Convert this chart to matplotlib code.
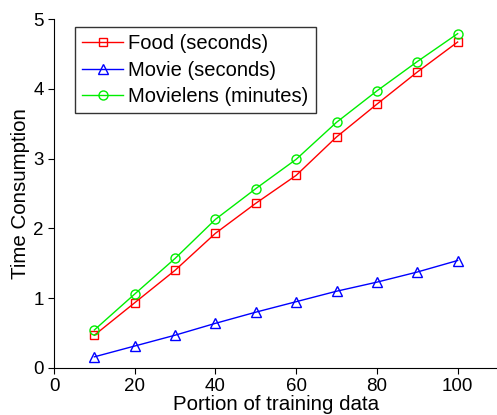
import matplotlib
matplotlib.use("Agg")
import matplotlib.pyplot as plt

plt.rcParams['font.family'] = ['Liberation Sans', 'DejaVu Sans']

# --- Data ---
portion = [10, 20, 30, 40, 50, 60, 70, 80, 90, 100]
food = [0.47, 0.935, 1.40, 1.93, 2.36, 2.76, 3.31, 3.78, 4.24, 4.67]
movie = [0.16, 0.315, 0.47, 0.64, 0.80, 0.95, 1.10, 1.23, 1.375, 1.54]
movielens = [0.545, 1.06, 1.57, 2.13, 2.57, 2.99, 3.52, 3.97, 4.39, 4.79]

# --- Plot ---
fig = plt.figure(figsize=(4.97, 4.15), dpi=100)
ax = fig.add_axes([54/497, 1 - 368/415, 444/497, 349/415])

ax.plot(portion, food, color='#ff0000', marker='s', mfc='none', ms=5.5, lw=1,
        label="Food (seconds)")
ax.plot(portion, movie, color='#0000ff', marker='^', mfc='none', ms=7, lw=1,
        label="Movie (seconds)")
ax.plot(portion, movielens, color='#00ee00', marker='o', mfc='none', ms=6.5, lw=1,
        label="Movielens (minutes)")

ax.set_xlim(0, 110)
ax.set_ylim(0, 5)
ax.set_xticks([0, 20, 40, 60, 80, 100])
ax.set_yticks([0, 1, 2, 3, 4, 5])
ax.spines['top'].set_visible(False)
ax.spines['right'].set_visible(False)
ax.tick_params(direction='out', length=4, labelsize=13.5)
ax.set_xlabel("Portion of training data", fontsize=14.8, labelpad=0)
ax.set_ylabel("Time Consumption", fontsize=14.8, labelpad=2)

leg = ax.legend(loc='upper left', bbox_to_anchor=(0.047, 0.977), fontsize=14.5,
                frameon=True, fancybox=False, edgecolor='black',
                handlelength=2.05, labelspacing=0.38, borderpad=0.35,
                handletextpad=0.25, borderaxespad=0)
leg.get_frame().set_linewidth(1)

fig.savefig("out.png", dpi=100)
